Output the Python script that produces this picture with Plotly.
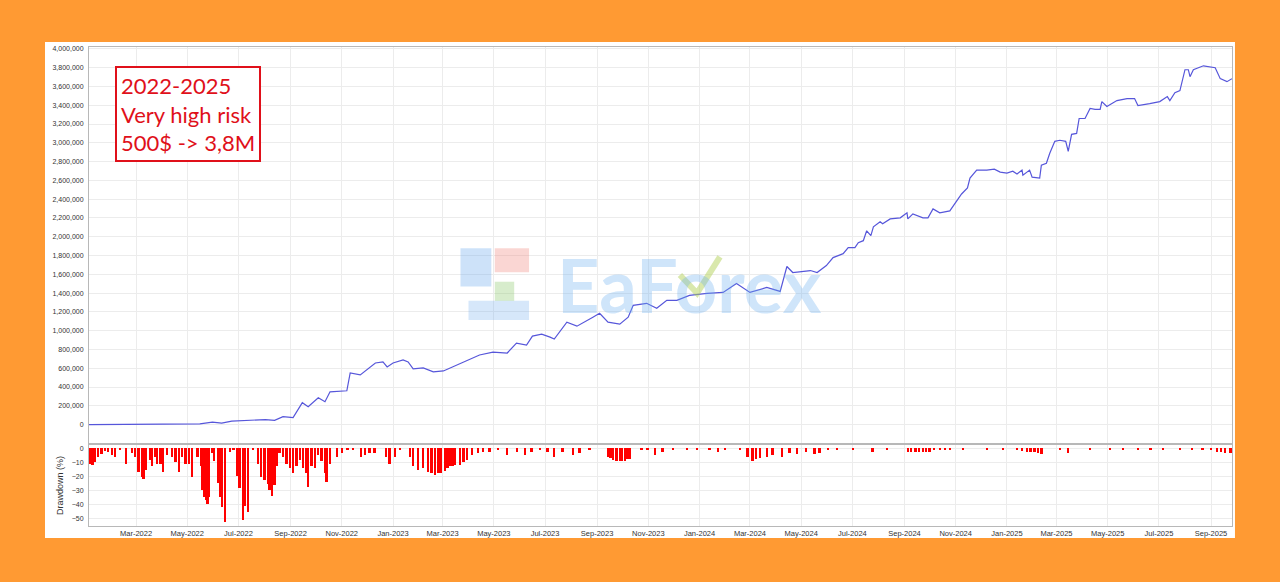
import plotly.graph_objects as go

# ---------------- data ----------------
equity_dates = [
    "2022-01-04", "2022-03-18", "2022-05-16", "2022-05-31", "2022-06-11", "2022-06-23",
    "2022-07-03", "2022-07-15", "2022-08-02", "2022-08-13", "2022-08-23", "2022-09-04",
    "2022-09-12", "2022-09-15", "2022-09-22", "2022-10-04", "2022-10-12", "2022-10-18",
    "2022-11-07", "2022-11-11", "2022-11-23", "2022-12-01", "2022-12-11", "2022-12-20",
    "2022-12-25", "2023-01-01", "2023-01-13", "2023-01-19", "2023-01-25", "2023-02-06",
    "2023-02-18", "2023-03-02", "2023-03-13", "2023-03-25", "2023-04-14", "2023-04-30",
    "2023-05-17", "2023-05-28", "2023-06-09", "2023-06-16", "2023-06-27", "2023-07-07",
    "2023-07-12", "2023-07-27", "2023-08-08", "2023-08-27", "2023-09-04", "2023-09-14",
    "2023-09-28", "2023-10-08", "2023-10-14", "2023-10-30", "2023-11-11", "2023-11-23",
    "2023-12-05", "2023-12-20", "2024-01-10", "2024-01-29", "2024-02-14", "2024-03-01",
    "2024-03-21", "2024-04-06", "2024-04-14", "2024-04-21", "2024-05-12", "2024-05-20",
    "2024-05-31", "2024-06-08", "2024-06-20", "2024-06-26", "2024-07-04", "2024-07-08",
    "2024-07-14", "2024-07-18", "2024-07-23", "2024-07-26", "2024-08-03", "2024-08-06",
    "2024-08-15", "2024-08-27", "2024-09-04", "2024-09-05", "2024-09-11", "2024-09-23",
    "2024-09-29", "2024-10-05", "2024-10-13", "2024-10-25", "2024-10-29", "2024-11-04",
    "2024-11-08", "2024-11-15", "2024-11-18", "2024-11-26", "2024-12-08", "2024-12-17",
    "2024-12-24", "2025-01-01", "2025-01-08", "2025-01-13", "2025-01-19", "2025-01-20",
    "2025-01-28", "2025-01-31", "2025-02-09", "2025-02-11", "2025-02-17", "2025-02-21",
    "2025-02-27", "2025-03-05", "2025-03-12", "2025-03-15", "2025-03-19", "2025-03-25",
    "2025-03-28", "2025-04-04", "2025-04-10", "2025-04-16", "2025-04-22", "2025-04-24",
    "2025-04-30", "2025-05-12", "2025-05-24", "2025-06-02", "2025-06-06", "2025-06-20",
    "2025-07-02", "2025-07-11", "2025-07-14", "2025-07-20", "2025-07-26", "2025-08-01",
    "2025-08-05", "2025-08-07", "2025-08-11", "2025-08-23", "2025-09-06", "2025-09-12",
    "2025-09-20", "2025-09-26",
]
equity_values = [
    500, 2000, 8000, 26000, 16000, 37000,
    42000, 45000, 53000, 45000, 85000, 74000,
    190000, 233000, 190000, 286000, 243000, 349000,
    360000, 550000, 529000, 582000, 656000, 667000,
    614000, 656000, 688000, 667000, 593000, 603000,
    561000, 571000, 614000, 656000, 741000, 772000,
    762000, 868000, 847000, 942000, 963000, 931000,
    910000, 1090000, 1048000, 1143000, 1185000, 1090000,
    1069000, 1143000, 1270000, 1291000, 1238000, 1323000,
    1323000, 1376000, 1397000, 1407000, 1503000, 1407000,
    1460000, 1418000, 1683000, 1619000, 1640000, 1619000,
    1693000, 1778000, 1820000, 1884000, 1884000, 1937000,
    1958000, 2063000, 2011000, 2106000, 2159000, 2138000,
    2190000, 2201000, 2254000, 2190000, 2243000, 2201000,
    2201000, 2296000, 2254000, 2275000, 2328000, 2402000,
    2455000, 2519000, 2624000, 2709000, 2709000, 2720000,
    2688000, 2677000, 2698000, 2667000, 2709000, 2656000,
    2709000, 2635000, 2624000, 2762000, 2783000, 2889000,
    3016000, 3027000, 3016000, 2910000, 3090000, 3100000,
    3259000, 3259000, 3365000, 3355000, 3355000, 3439000,
    3386000, 3450000, 3471000, 3471000, 3397000, 3418000,
    3439000, 3492000, 3450000, 3534000, 3556000, 3778000,
    3778000, 3704000, 3778000, 3820000, 3799000, 3683000,
    3651000, 3683000,
]

drawdown_dates = [
    "2022-01-05", "2022-01-08", "2022-01-11", "2022-01-15", "2022-01-19", "2022-01-23",
    "2022-01-27", "2022-01-31", "2022-02-04", "2022-02-10", "2022-02-17", "2022-02-24",
    "2022-02-28", "2022-03-04", "2022-03-08", "2022-03-10", "2022-03-13", "2022-03-18",
    "2022-03-20", "2022-03-24", "2022-03-26", "2022-03-30", "2022-04-02", "2022-04-07",
    "2022-04-13", "2022-04-17", "2022-04-21", "2022-04-25", "2022-04-29", "2022-05-03",
    "2022-05-07", "2022-05-13", "2022-05-17", "2022-05-19", "2022-05-21", "2022-05-23",
    "2022-05-25", "2022-05-27", "2022-05-31", "2022-06-02", "2022-06-07", "2022-06-09",
    "2022-06-11", "2022-06-15", "2022-06-21", "2022-06-25", "2022-06-30", "2022-07-02",
    "2022-07-06", "2022-07-08", "2022-07-12", "2022-07-18", "2022-07-24", "2022-07-28",
    "2022-08-01", "2022-08-05", "2022-08-07", "2022-08-10", "2022-08-13", "2022-08-16",
    "2022-08-19", "2022-08-23", "2022-08-27", "2022-08-31", "2022-09-04", "2022-09-08",
    "2022-09-12", "2022-09-16", "2022-09-20", "2022-09-22", "2022-09-26", "2022-09-30",
    "2022-10-04", "2022-10-08", "2022-10-12", "2022-10-14", "2022-10-18", "2022-10-26",
    "2022-11-01", "2022-11-08", "2022-11-14", "2022-11-24", "2022-11-29", "2022-12-04",
    "2022-12-10", "2022-12-24", "2022-12-28", "2023-01-03", "2023-01-09", "2023-01-21",
    "2023-01-25", "2023-01-31", "2023-02-06", "2023-02-12", "2023-02-16", "2023-02-20",
    "2023-02-24", "2023-02-27", "2023-03-04", "2023-03-07", "2023-03-10", "2023-03-13",
    "2023-03-16", "2023-03-22", "2023-03-26", "2023-03-30", "2023-04-05", "2023-04-12",
    "2023-04-18", "2023-04-26", "2023-05-06", "2023-05-17", "2023-05-29", "2023-06-07",
    "2023-06-15", "2023-06-25", "2023-07-04", "2023-07-12", "2023-07-22", "2023-08-03",
    "2023-08-11", "2023-08-23", "2023-09-14", "2023-09-17", "2023-09-20", "2023-09-24",
    "2023-09-28", "2023-10-01", "2023-10-04", "2023-10-07", "2023-10-10", "2023-10-24",
    "2023-10-31", "2023-11-09", "2023-11-18", "2023-11-30", "2023-12-17", "2023-12-29",
    "2024-01-13", "2024-01-23", "2024-01-31", "2024-02-18", "2024-02-27", "2024-03-04",
    "2024-03-08", "2024-03-13", "2024-03-21", "2024-03-28", "2024-04-08", "2024-04-17",
    "2024-04-26", "2024-05-07", "2024-05-17", "2024-05-23", "2024-06-02", "2024-06-13",
    "2024-07-02", "2024-07-25", "2024-08-11", "2024-09-05", "2024-09-09", "2024-09-14",
    "2024-09-18", "2024-09-23", "2024-09-27", "2024-10-01", "2024-10-06", "2024-10-13",
    "2024-10-19", "2024-10-25", "2024-11-10", "2024-12-08", "2024-12-27", "2025-01-13",
    "2025-01-19", "2025-01-25", "2025-01-29", "2025-02-03", "2025-02-07", "2025-02-11",
    "2025-03-05", "2025-03-15", "2025-04-10", "2025-05-04", "2025-05-19", "2025-06-06",
    "2025-06-21", "2025-07-06", "2025-07-26", "2025-08-09", "2025-08-22", "2025-09-01",
    "2025-09-08", "2025-09-13", "2025-09-18", "2025-09-24",
]
drawdown_values = [
    -11, -12, -9.7, -6, -4, -2,
    -3, -5, -6.2, -1, -11, -3.5,
    -6, -16.7, -20.5, -22, -15.5, -8.3,
    -13, -6, -11, -11, -17, -5,
    -6, -10, -17, -6, -11, -11,
    -20.5, -6, -13, -30, -34.8, -37,
    -40, -35, -3.5, -9.5, -25, -35,
    -42, -52.8, -2.6, -1.4, -20, -28.5,
    -51.5, -41, -45.6, -1.4, -11, -20.5,
    -23, -25.5, -30, -33.8, -26, -13,
    -3.5, -6, -11, -14, -18, -13,
    -8.3, -14, -18, -27.6, -13, -14,
    -5, -9.5, -18, -24, -11, -6,
    -3.5, -1.7, -1.2, -6, -5, -3.5,
    -3.5, -6, -11, -6, -1.4, -6,
    -13, -15.5, -14, -17, -18, -19.5,
    -18, -18, -16, -14, -13, -13,
    -12, -11.7, -10, -8.3, -5, -3.5,
    -2.5, -2.5, -1.4, -5, -2.5, -5,
    -2.5, -1.7, -2.5, -6, -2.5, -5,
    -3.5, -1.7, -6, -7, -8.3, -9,
    -9, -9, -9, -8, -7.5, -1.4,
    -1.7, -5, -2.5, -1.4, -1.4, -1,
    -1.7, -2.5, -1.7, -1, -6, -9.5,
    -8, -7, -6, -5, -6, -3.5,
    -4, -2.5, -4, -3.5, -1.4, -1,
    -1.4, -2.5, -1.4, -3, -2.5, -2.5,
    -2.5, -2.5, -2.5, -2.5, -1.7, -1.7,
    -1.5, -1.7, -1, -1, -1, -1.7,
    -2, -3, -2.5, -3, -3.5, -4,
    -1.4, -3.5, -1, -1, -1.4, -1.7,
    -1.4, -1, -1, -1.7, -1.4, -1.5,
    -2.5, -3, -3.5, -3.5,
]

equity_ticks = list(range(0, 4000001, 200000))
drawdown_ticks = [0, -10, -20, -30, -40, -50]

# ---------------- figure ----------------
ORANGE = "#FF9A33"
GRID = "#ECECEC"
AXLINE = "#B8B8B8"
YTICKFONT = dict(family="Liberation Sans, Arial, sans-serif", size=7, color="#333333")
XTICKFONT = dict(family="Liberation Sans, Arial, sans-serif", size=7.5, color="#333333")

fig = go.Figure()
fig.add_trace(go.Scatter(
    x=equity_dates, y=equity_values, mode="lines",
    line=dict(color="#5656DA", width=1.2), xaxis="x", yaxis="y",
    showlegend=False, hoverinfo="skip",
))
fig.add_trace(go.Bar(
    x=drawdown_dates, y=drawdown_values, xaxis="x2", yaxis="y2",
    marker=dict(color="#FF0000", line=dict(width=0)),
    width=2.8 * 86400000, showlegend=False, hoverinfo="skip",
))

x_range = ["2022-01-04", "2025-09-26"]
common_x = dict(
    range=x_range, type="date", showgrid=True, gridcolor=GRID, gridwidth=1,
    tick0="2022-03-01", dtick="M2", showline=True, mirror=True,
    linecolor=AXLINE, linewidth=1, zeroline=False, ticks="",
)

fig.update_layout(
    width=1280, height=582,
    paper_bgcolor=ORANGE, plot_bgcolor="white",
    margin=dict(l=89, r=48, t=47, b=56),
    bargap=0,
    xaxis=dict(common_x, anchor="y", showticklabels=False),
    xaxis2=dict(common_x, anchor="y2", matches="x", showticklabels=True,
                tickformat="%b-%Y", tickfont=XTICKFONT),
    yaxis=dict(domain=[0.1733, 1.0], range=[-196000, 4020000],
               tickvals=equity_ticks, tickformat=",", tickfont=YTICKFONT,
               showgrid=True, gridcolor=GRID, zeroline=False, ticklabelstandoff=3,
               showline=True, mirror=True, linecolor=AXLINE, ticks=""),
    yaxis2=dict(domain=[0.0, 0.1691], range=[-55.5, 2.2],
                tickvals=drawdown_ticks, tickfont=YTICKFONT, ticklabelstandoff=3,
                showgrid=True, gridcolor=GRID, zeroline=False,
                showline=True, mirror=True, linecolor=AXLINE, ticks="",
                title=dict(text="Drawdown (%)", standoff=6,
                           font=dict(family="Liberation Sans, Arial, sans-serif",
                                     size=9, color="#333333"))),
)

# white panel behind the charts
fig.add_shape(type="rect", xref="paper", yref="paper",
              x0=-0.0385, x1=1.0026, y0=-0.025, y1=1.0104,
              fillcolor="white", line=dict(width=0), layer="below")

# watermark (logo text)
fig.add_annotation(xref="paper", yref="paper", x=0.525, y=0.505,
                   text="<b>EaForex</b>", showarrow=False,
                   font=dict(family="Lato, Open Sans, sans-serif", size=74,
                             color="rgba(110,175,240,0.33)"))
# watermark check mark
fig.add_shape(type="path", xref="paper", yref="paper",
              path="M 0.517 0.524 L 0.532 0.486 L 0.552 0.562",
              line=dict(color="rgba(180,210,90,0.5)", width=6), layer="above")
# watermark icon blocks
for (x0, x1, y0, y1, col) in [
    (0.325, 0.352, 0.50, 0.58, "rgba(90,160,235,0.30)"),
    (0.355, 0.385, 0.53, 0.58, "rgba(240,120,110,0.30)"),
    (0.355, 0.372, 0.47, 0.51, "rgba(140,200,110,0.35)"),
    (0.332, 0.385, 0.43, 0.47, "rgba(90,160,235,0.25)"),
]:
    fig.add_shape(type="rect", xref="paper", yref="paper",
                  x0=x0, x1=x1, y0=y0, y1=y1, fillcolor=col,
                  line=dict(width=0), layer="above")

# red text box
fig.add_annotation(xref="paper", yref="paper", x=0.0227, y=0.9603,
                   xanchor="left", yanchor="top", align="left",
                   text="2022-2025<br>Very high risk<br>500$ -> 3,8M",
                   showarrow=False, bgcolor="white",
                   bordercolor="#E0101A", borderwidth=2, borderpad=4,
                   font=dict(family="Lato, Open Sans, sans-serif", size=22,
                             color="#E0101A"))

fig.write_html(
    "out.html",
    config={"displayModeBar": False},
    post_script="document.body.style.margin='0';document.body.style.background='#FF9A33';"
    "window.dispatchEvent(new Event('resize'));",
)
